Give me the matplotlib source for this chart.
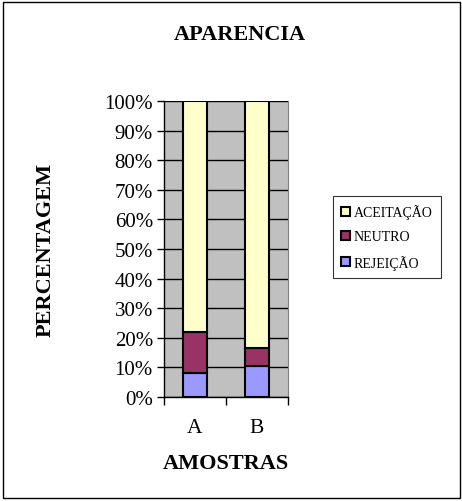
import matplotlib.pyplot as plt
from matplotlib.patches import Rectangle

amostras = ["A", "B"]
rejeicao = [8, 10.5]
neutro = [14, 6]
aceitacao = [78, 83.5]
y_ticks = list(range(0, 101, 10))

plt.rcParams['font.family'] = ['Liberation Serif', 'DejaVu Serif']

fig = plt.figure(figsize=(4.62, 5.02), dpi=100)
ax = fig.add_axes((164 / 462, 1 - 398 / 502, 124 / 462, 296 / 502))
ax.set_facecolor("#C0C0C0")

x = range(len(amostras))
bottom2 = [r + n for r, n in zip(rejeicao, neutro)]
ax.bar(x, rejeicao, width=0.4, color="#9999FF", edgecolor="black", linewidth=1.5,
       label="REJEIÇÃO", zorder=3)
ax.bar(x, neutro, width=0.4, bottom=rejeicao, color="#993366", edgecolor="black",
       linewidth=1.5, label="NEUTRO", zorder=3)
ax.bar(x, aceitacao, width=0.4, bottom=bottom2, color="#FFFFCC", edgecolor="black",
       linewidth=1.5, label="ACEITAÇÃO", zorder=3)

ax.set_xlim(-0.5, len(amostras) - 0.5)
ax.set_ylim(0, 100)
ax.set_yticks(y_ticks)
ax.set_yticklabels([f"{v}%" for v in y_ticks], fontsize=15)
ax.yaxis.grid(True, color="black", linewidth=1, zorder=1)
ax.set_axisbelow(True)

ax.set_xticks([i - 0.5 for i in range(len(amostras) + 1)])
ax.set_xticklabels([])
ax.set_xticks(list(x), minor=True)
ax.set_xticklabels(amostras, minor=True, fontsize=15.5)
ax.tick_params(axis="x", which="minor", length=0, pad=15)
ax.tick_params(axis="x", which="major", length=6, width=1, direction="out")
ax.tick_params(axis="y", length=5, width=1, direction="out", pad=3)

ax.spines["top"].set_visible(False)
ax.spines["right"].set_color("#808080")
ax.spines["left"].set_linewidth(1)
ax.spines["bottom"].set_linewidth(1)

ax.set_xlabel("AMOSTRAS", fontsize=16, fontweight="bold", labelpad=12)
ax.set_ylabel("PERCENTAGEM", fontsize=16, fontweight="bold", labelpad=35)

fig.text(240 / 462, 1 - 35 / 502, "APARENCIA", ha="center", va="center",
         fontsize=16, fontweight="bold")

handles, labels = ax.get_legend_handles_labels()
leg = fig.legend(handles[::-1], labels[::-1], loc="center",
                 bbox_to_anchor=(387 / 462, 1 - 238 / 502), fontsize=10,
                 frameon=True, fancybox=False, edgecolor="black",
                 handlelength=0.6, handleheight=0.6, handletextpad=0.3,
                 labelspacing=0.8, borderpad=0.6)
leg.get_frame().set_linewidth(0.8)

fig.patches.append(Rectangle((3 / 462, 3 / 502), 457 / 462, 496 / 502,
                             transform=fig.transFigure, fill=False,
                             edgecolor="black", linewidth=1))

fig.savefig("out.png", dpi=100)
